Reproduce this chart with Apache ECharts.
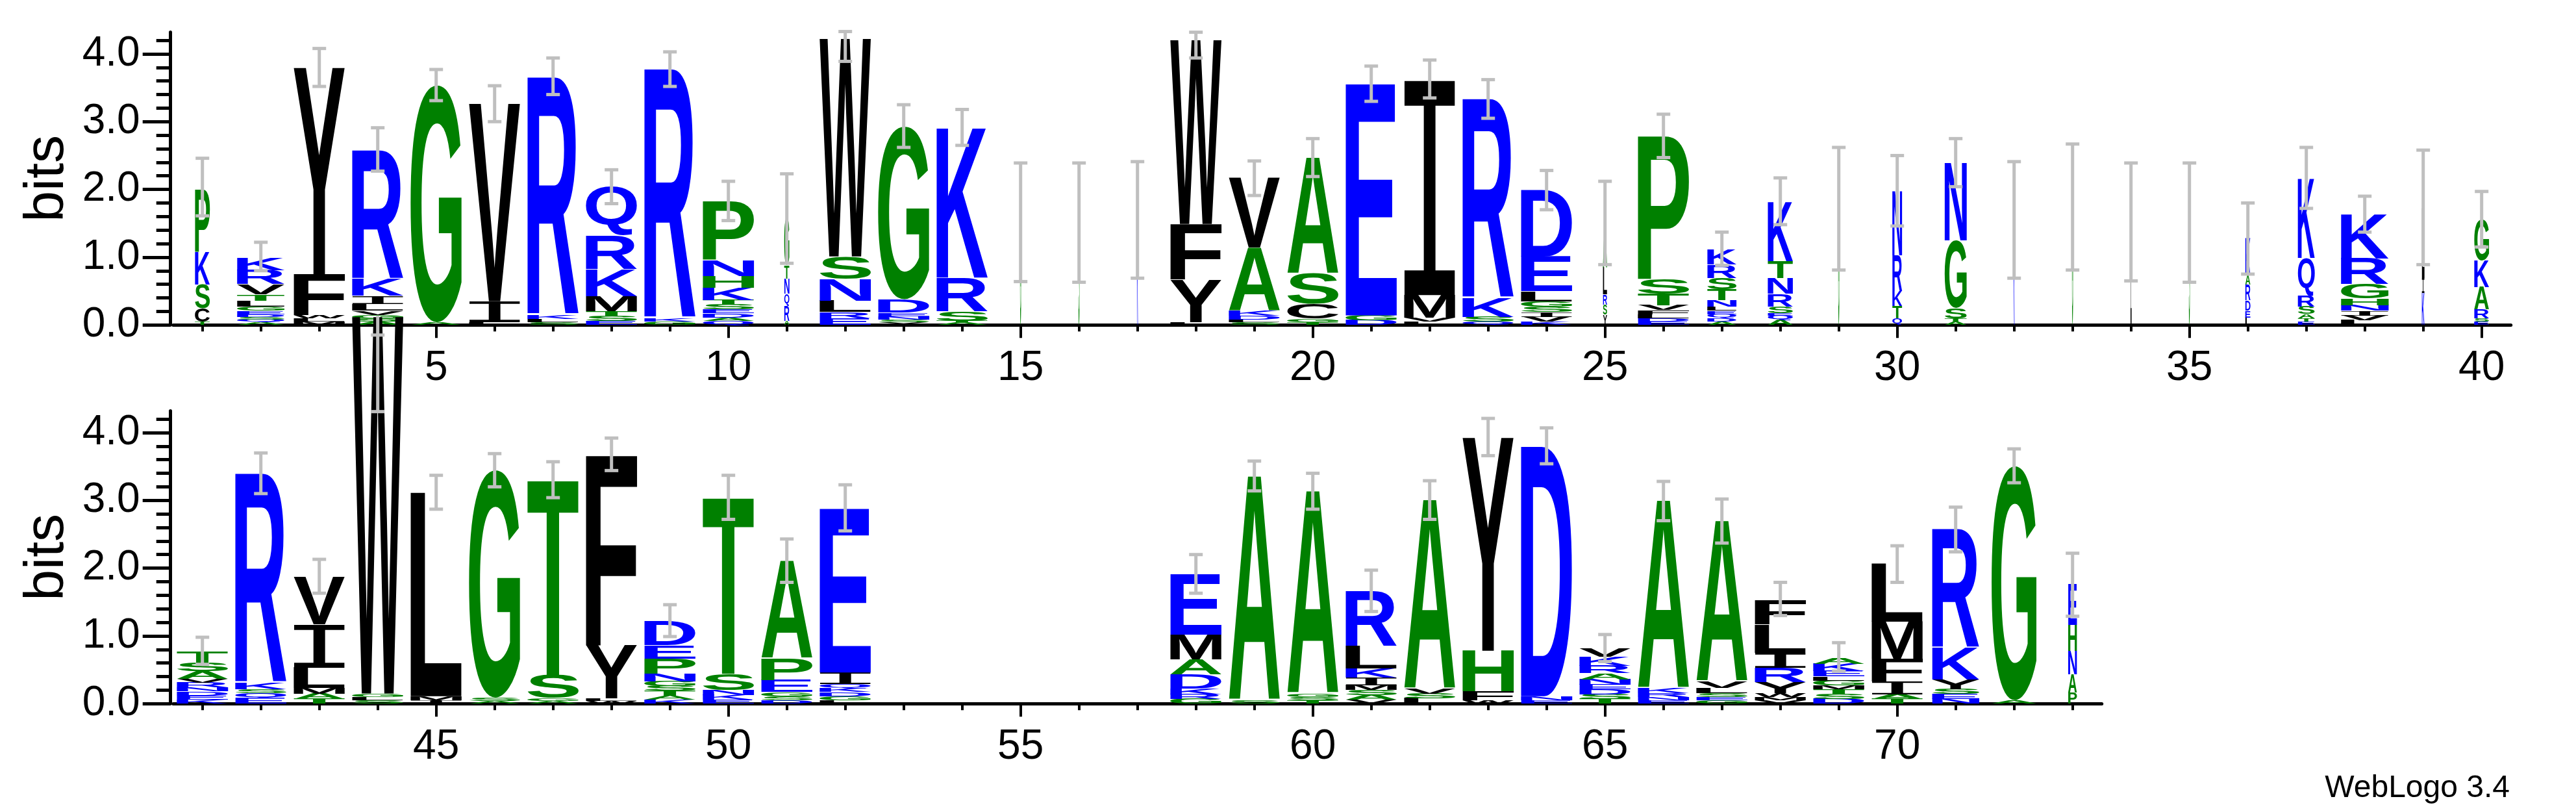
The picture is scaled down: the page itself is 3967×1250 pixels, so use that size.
<!DOCTYPE html>
<html><head><meta charset="utf-8">
<script src="https://cdn.jsdelivr.net/npm/echarts@6/dist/echarts.min.js"></script>
<style>html,body{margin:0;padding:0;background:#fff}#c{width:3967px;height:1250px}</style>
</head><body><div id="c"></div>
<script>
// ---- DATA ----
const row1Positions = ['1','2','3','4','5','6','7','8','9','10','11','12','13','14','15','16','17','18','19','20','21','22','23','24','25','26','27','28','29','30','31','32','33','34','35','36','37','38','39','40'];
const row2Positions = ['41','42','43','44','45','46','47','48','49','50','51','52','53','54','55','56','57','58','59','60','61','62','63','64','65','66','67','68','69','70','71','72','73'];
// residues per position, bottom -> top
const stackLetters = ['TCSKP','AQSDEGLTVRK','MLWFY','ASGVLIKR','AG','LIV','SLKR','ESTMKRQ','GKR','QADESTKHNP',
 'ARQNTG','ERLNSW','YSNEDG','ATSRK','G','S','K','LYFW','SLDKAV','TGCSA',
 'DGE','LVMI','QSKR','KVISGLED','YSRLA','EDLFVTSP','ADQELNTSRK','AQESRNTK','G','QTKRN',
 'ATSGN','K','G','L','S','LEDRAK','ETASRQK','LVINHGRK','KIL','ESRAKG',
 'KEDNRVAST','EQSKR','TAMLIV','SLGW','IML','ASG','AGST','WLYF','KATSGNPED','EKNST',
 'DSGEPA','LGDKQIE','','','','','','GRKDAME','SA','TSGA',
 'VASMIKLR','LSVA','WFHY','END','TSDENARKV','ENRKA','GESLVA','VMWYRILF','DSTMGLEKA','TAIFML',
 'NESYKR','AG','PANHE'];
// letter heights in bits, same order
const stackHeights = [
 [0.05,0.2,0.35,0.48,0.93],[0.04,0.04,0.04,0.04,0.05,0.06,0.09,0.09,0.15,0.21,0.19],[0.05,0.05,0.05,0.6,3.05],
 [0.05,0.05,0.05,0.06,0.10,0.12,0.25,1.90],[0.04,3.5],[0.04,0.31,2.92],[0.04,0.05,0.06,3.51],
 [0.06,0.07,0.07,0.22,0.4,0.5,0.72],[0.05,0.05,3.68],[0.06,0.05,0.06,0.06,0.07,0.07,0.18,0.17,0.24,0.87],
 [0.06,0.22,0.18,0.22,0.2,0.69],[0.1,0.09,0.17,0.32,0.33,3.22],[0.04,0.04,0.05,0.05,0.2,2.55],
 [0.03,0.03,0.14,0.5,2.22],[1.5],[1.5],[1.54],[0.04,0.63,0.82,2.72],[0.04,0.04,0.06,0.07,0.93,1.03],
 [0.04,0.05,0.22,0.45,1.71],[0.07,0.07,3.42],[0.05,0.06,0.33,3.19],[0.05,0.07,0.28,2.94],
 [0.05,0.07,0.07,0.08,0.08,0.15,0.51,0.98],[0.15,0.15,0.15,0.4,0.65],[0.05,0.05,0.06,0.06,0.07,0.17,0.22,2.12],
 [0.05,0.05,0.06,0.05,0.06,0.1,0.16,0.16,0.2,0.22],[0.07,0.07,0.03,0.1,0.19,0.23,0.25,0.88],[1.72],
 [0.1,0.18,0.22,0.53,0.95],[0.05,0.05,0.15,1.0,1.15],[1.54],[1.74],[1.52],[1.5],
 [0.11,0.1,0.15,0.24,0.13,0.55],[0.05,0.05,0.06,0.11,0.16,0.56,1.17],[0.07,0.07,0.07,0.08,0.1,0.21,0.38,0.65],
 [0.47,0.22,1.03],[0.05,0.05,0.13,0.33,0.39,0.6],
 [0.06,0.06,0.06,0.06,0.07,0.06,0.11,0.13,0.16],[0.08,0.07,0.06,0.1,3.09],[0.07,0.08,0.08,0.3,0.64,0.7],
 [0.05,0.05,0.05,5.57],[0.05,0.06,3.01],[0.04,0.05,3.36],[0.04,0.04,0.34,2.89],[0.04,0.04,0.78,2.82],
 [0.06,0.06,0.07,0.07,0.07,0.11,0.22,0.2,0.36],[0.06,0.07,0.07,0.24,2.61],[0.05,0.06,0.06,0.18,0.32,1.44],
 [0.05,0.06,0.06,0.06,0.06,0.17,2.42],[],[],[],[],[],
 [0.07,0.07,0.08,0.21,0.22,0.37,0.89],[0.05,3.31],[0.05,0.05,0.05,2.99],
 [0.06,0.07,0.07,0.07,0.12,0.13,0.33,0.82],[0.08,0.07,0.07,2.79],[0.05,0.13,0.6,3.15],[0.05,0.06,3.69],
 [0.07,0.07,0.07,0.07,0.08,0.09,0.11,0.13,0.12],[0.05,0.05,0.06,0.07,2.77],[0.05,0.05,0.06,0.07,0.1,2.37],
 [0.05,0.05,0.06,0.16,0.21,0.22,0.42,0.36],[0.07,0.07,0.07,0.06,0.07,0.06,0.08,0.11,0.08],
 [0.07,0.07,0.19,0.33,0.55,0.86],[0.07,0.07,0.07,0.15,0.47,1.75],[0.05,3.46],[0.16,0.27,0.35,0.38,0.6]];
// fraction of sequences with a residue (stack width)
const coverage = [0.29,0.93,1,1,1,1,1,1,1,1, 0.1,1,1,1,0.02,0.02,0.02,1,1,1,
 1,1,1,1,0.08,1,0.57,0.49,0.02,0.19, 0.43,0.02,0.02,0.02,0.02,0.1,0.33,0.93,0.05,0.29,
 1,1,1,1,1,1,1,1,1,1, 1,1,0,0,0,0,0,1,1,1, 1,1,1,1,1,1,1,1,1,1, 0.92,0.88,0.17];
const errLow = [1.61,0.80,3.52,2.27,3.31,3.00,3.40,1.79,3.52,1.54, 0.91,3.89,2.62,2.65,0.64,0.63,0.69,3.94,1.91,2.19,
 3.30,3.35,3.05,1.70,0.89,2.47,0.88,1.48,0.81,1.46, 2.04,0.69,0.81,0.65,0.63,0.75,1.72,1.37,0.89,1.15,
 0.58,3.10,1.63,4.31,2.87,3.20,3.04,3.44,0.99,2.72, 1.79,2.55,null,null,null,null,null,1.63,3.14,2.87,
 1.36,2.72,3.66,3.54,0.62,2.70,2.37,1.30,0.48,1.79, 2.24,3.26,1.29];
const errHigh = [2.46,1.22,4.08,2.91,3.77,3.53,3.94,2.29,4.03,2.12, 2.23,4.33,3.25,3.18,2.39,2.39,2.41,4.32,2.42,2.75,
 3.82,3.91,3.62,2.28,2.12,3.11,1.37,2.17,2.62,2.50, 2.75,2.41,2.67,2.39,2.39,1.80,2.62,1.90,2.58,1.97,
 0.98,3.70,2.13,5.44,3.37,3.69,3.57,3.92,1.46,3.37, 2.43,3.23,null,null,null,null,null,2.20,3.58,3.40,
 1.97,3.29,4.21,4.07,1.02,3.28,3.02,1.79,0.90,2.33, 2.90,3.76,2.22];
const yTickValues = [0,1,2,3,4];
const maxBits = 4.3219;

// ---- RENDER ----
const FONT_FAMILY = '"Liberation Sans", Arial, Helvetica, sans-serif';
const LETTER_FONT = 'bold 200px ' + FONT_FAMILY;
const SERIF_I_FONT = '200px "Liberation Mono", "DejaVu Sans Mono", monospace';
function fontFor(ch){ return ch === 'I' ? SERIF_I_FONT : LETTER_FONT; }
const BLUE = 'RKDENQ', GREEN = 'GSTPAH';
function colorOf(ch){ return BLUE.indexOf(ch)>=0 ? '#0000ff' : (GREEN.indexOf(ch)>=0 ? '#008000' : '#000000'); }
const mctx = document.createElement('canvas').getContext('2d');
const mcache = {};
function metrics(ch){
  if(!mcache[ch]){
    mctx.font = fontFor(ch); mctx.textBaseline = 'middle'; mctx.textAlign = 'left';
    const m = mctx.measureText(ch);
    mcache[ch] = {l:-m.actualBoundingBoxLeft, r:m.actualBoundingBoxRight, t:-m.actualBoundingBoxAscent, b:m.actualBoundingBoxDescent};
  }
  return mcache[ch];
}
const GRAY = '#bfbfbf';
function makeRender(offset){
  return function(params, api){
    const ci = api.value(0); const pi = offset + ci;
    const ls = stackLetters[pi], hs = stackHeights[pi];
    const band = api.size([1,0])[0];
    const w = band*0.877*coverage[pi];
    const children = [];
    let cum = 0;
    for(let k=0;k<ls.length;k++){
      const h = hs[k];
      const pB = api.coord([ci, cum]); const pT = api.coord([ci, cum+h]); cum += h;
      const ch = ls[k]; const m = metrics(ch);
      const sx = w/(m.r-m.l), sy = (pB[1]-pT[1])/(m.b-m.t);
      const x0 = pB[0]-w/2;
      children.push({type:'text', silent:true, x: x0 - sx*m.l, y: pT[1] - sy*m.t, scaleX: sx, scaleY: sy,
        style:{text:ch, font:fontFor(ch), fill:colorOf(ch), align:'left', verticalAlign:'middle', textAlign:'left', textVerticalAlign:'middle'}});
    }
    if(errLow[pi] != null){
      const pL = api.coord([ci, errLow[pi]]), pH = api.coord([ci, errHigh[pi]]);
      const pS = api.coord([ci, cum]);
      const cx = pL[0];
      const topY = Math.min(pH[1], pS[1]);
      const st = {stroke:GRAY, lineWidth:5};
      children.push({type:'line', silent:true, shape:{x1:cx,y1:pL[1],x2:cx,y2:topY}, style:st});
      children.push({type:'line', silent:true, shape:{x1:cx-10.5,y1:pL[1],x2:cx+10.5,y2:pL[1]}, style:st});
      children.push({type:'line', silent:true, shape:{x1:cx-10.5,y1:pH[1],x2:cx+10.5,y2:pH[1]}, style:st});
    }
    return {type:'group', children};
  };
}
function stackTop(pi){ return stackHeights[pi].reduce((a,b)=>a+b,0); }

const chart = echarts.init(document.getElementById('c'), null, {renderer:'canvas'});
const BAND = 90.0, LEFT = 266.7, H = 450.8;
function xAxes(grid, labels){
  return [
    {gridIndex:grid, type:'category', data:labels, boundaryGap:true,
     axisLine:{show:true, lineStyle:{color:'#000', width:5}},
     axisTick:{show:true, alignWithLabel:true, interval:0, length:10, lineStyle:{color:'#000', width:4}},
     axisLabel:{show:true, interval:function(i,v){return Number(v)%5===0;}, fontSize:64, margin:35, color:'#000', fontFamily:FONT_FAMILY},
     splitLine:{show:false}},
    {gridIndex:grid, type:'category', data:labels, boundaryGap:true, position:'top', offset:-H,
     axisLine:{show:false},
     axisTick:{show:true, inside:true, alignWithLabel:true, interval:function(i,v){return Number(v)%5===0;}, length:20, lineStyle:{color:'#000', width:4}},
     axisLabel:{show:false}, splitLine:{show:false}}
  ];
}
function yAxis(grid){
  return {gridIndex:grid, type:'value', min:0, max:maxBits, interval:1, offset:4,
    name:'bits', nameLocation:'middle', nameRotate:90, nameGap:143,
    nameTextStyle:{fontSize:86, color:'#000', fontFamily:FONT_FAMILY},
    axisLine:{show:true, lineStyle:{color:'#000', width:5}},
    axisTick:{show:true, customValues:yTickValues, length:43, lineStyle:{color:'#000', width:5}},
    minorTick:{show:true, splitNumber:5, length:22, lineStyle:{color:'#000', width:5}},
    axisLabel:{show:true, customValues:yTickValues, formatter:function(v){return Number(v).toFixed(1);}, fontSize:64, margin:47, color:'#000', fontFamily:FONT_FAMILY},
    splitLine:{show:false}, minorSplitLine:{show:false}};
}
chart.setOption({
  animation:false,
  backgroundColor:'#ffffff',
  textStyle:{fontFamily:FONT_FAMILY},
  grid:[
    {left:LEFT, top:500.2-H, width:BAND*40, height:H, outerBoundsMode:'none', containLabel:false},
    {left:LEFT, top:1083.2-H, width:BAND*33, height:H, outerBoundsMode:'none', containLabel:false}
  ],
  xAxis: xAxes(0,row1Positions).concat(xAxes(1,row2Positions)),
  yAxis: [yAxis(0), yAxis(1)],
  series:[
    {type:'custom', xAxisIndex:0, yAxisIndex:0, clip:false, renderItem:makeRender(0),
     data: row1Positions.map(function(p,i){return [i, stackTop(i)];})},
    {type:'custom', xAxisIndex:2, yAxisIndex:1, clip:false, renderItem:makeRender(40),
     data: row2Positions.map(function(p,i){return [i, stackTop(40+i)];})}
  ],
  graphic:[{type:'text', right:102, top:1190, style:{text:'WebLogo 3.4', font:'48px '+FONT_FAMILY, fill:'#000'}}]
});
</script>
</body></html>
